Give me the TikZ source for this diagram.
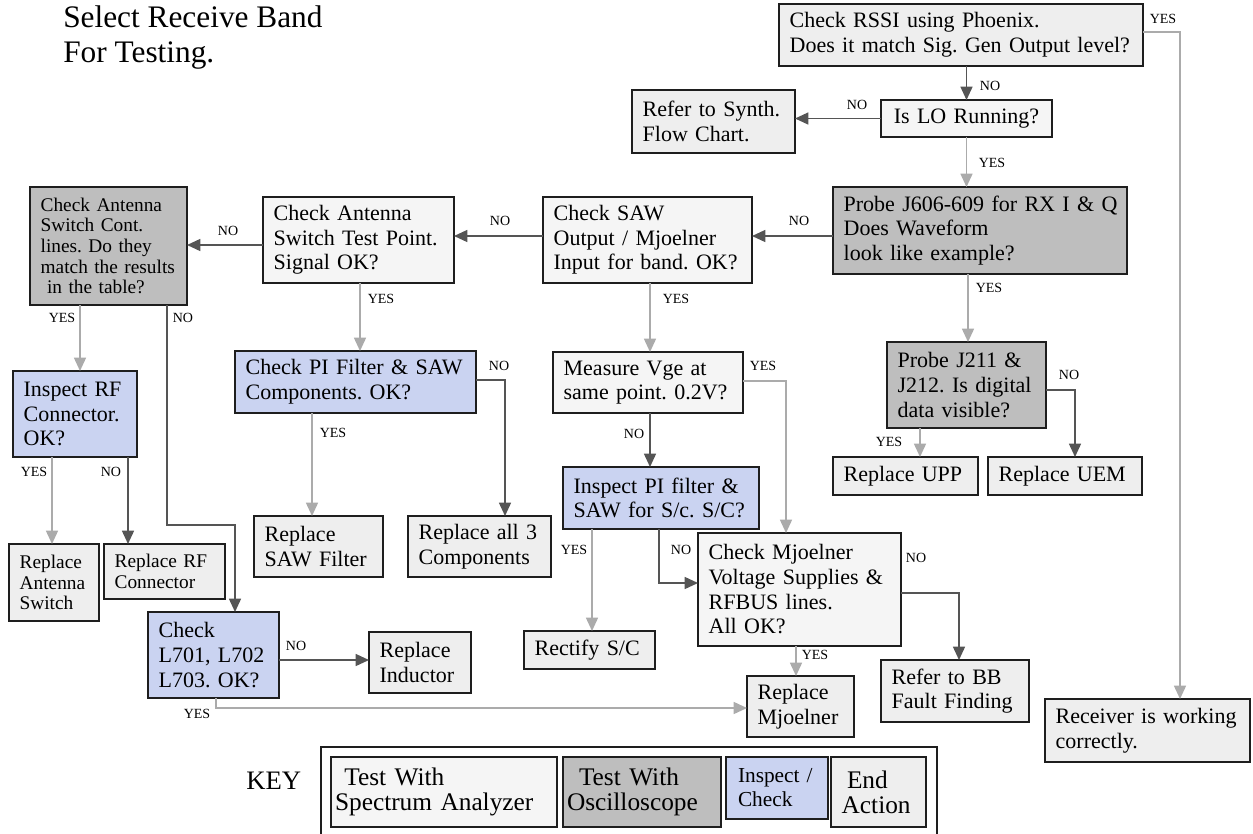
\documentclass[tikz,border=0pt]{standalone}
\usepackage{fontspec}
\setmainfont{Liberation Serif}
\usetikzlibrary{arrows.meta}
\frenchspacing
\definecolor{dk}{HTML}{555555}
\definecolor{lt}{HTML}{ABABAB}
\definecolor{oscfill}{HTML}{BEBEBE}
\definecolor{specfill}{HTML}{F5F5F5}
\definecolor{endfill}{HTML}{EEEEEE}
\definecolor{inspfill}{HTML}{CAD3F1}
\definecolor{bordercol}{HTML}{1E1E1E}
\def\myPad{8}
\newcommand{\mybox}[7]{%
 \pgfmathsetmacro{\myBW}{(#5-#3)*0.75}%
 \pgfmathsetmacro{\myBH}{(#6-#4)*0.75}%
 \pgfmathsetmacro{\myTW}{(#5-#3)*0.75-2*\myPad}%
 \node[#2, inner xsep=\myPad pt, minimum width=\myBW pt, minimum height=\myBH pt, text width=\myTW pt] (#1) at ({(#3+#5)/2},{(#4+#6)/2}) {#7};}
\tikzset{
 boxbase/.style={draw=bordercol, line width=1.3pt, inner ysep=0pt, outer sep=0pt, align=left, font=\fontsize{16.5}{18.5}\selectfont},
 spec/.style={boxbase, fill=specfill},
 endb/.style={boxbase, fill=endfill},
 osc/.style={boxbase, fill=oscfill},
 insp/.style={boxbase, fill=inspfill},
 smallfont/.style={font=\fontsize{14.5}{15.5}\selectfont},
 keyfont/.style={font=\fontsize{19}{18.5}\selectfont},
 dka/.style={draw=dk, line width=1.1pt, -{Triangle[length=10pt,width=9pt]}},
 lta/.style={draw=lt, line width=1.1pt, -{Triangle[length=10pt,width=9pt]}},
 lbl/.style={font=\fontsize{10.5}{12}\selectfont, inner sep=0pt},
}
\begin{document}
\begin{tikzpicture}[x=0.75pt, y=-0.75pt]
\useasboundingbox (0,0) rectangle (1253,833);
% title
\node[anchor=base west, inner sep=0pt, font=\fontsize{23.5}{26}\selectfont] (title1) at (63,27) {Select Receive Band};
\node[anchor=base west, inner sep=0pt, font=\fontsize{23.5}{26}\selectfont] (title2) at (63,62) {For Testing.};
% boxes
\mybox{rssi}{endb}{779}{4}{1143}{66}{\mbox{Check RSSI using Phoenix.}\\\mbox{Does it match Sig. Gen Output level?}}
\mybox{lo}{spec,align=center}{881}{100}{1052}{137}{\mbox{Is LO Running?}}
\mybox{synth}{endb}{632}{90}{795}{153}{\mbox{Refer to Synth.}\\\mbox{Flow Chart.}}
\mybox{p606}{osc}{833}{187}{1127}{274}{\mbox{Probe J606-609 for RX I \& Q}\\\mbox{Does Waveform}\\\mbox{look like example?}}
\mybox{saw}{spec}{543}{197}{752}{283}{\mbox{Check SAW}\\\mbox{Output / Mjoelner}\\\mbox{Input for band. OK?}}
\mybox{anttp}{spec}{263}{197}{454}{283}{\mbox{Check Antenna}\\\mbox{Switch Test Point.}\\\mbox{Signal OK?}}
\mybox{antsw}{osc,smallfont}{30}{187}{187}{305}{\mbox{Check Antenna}\\\mbox{Switch Cont.}\\\mbox{lines. Do they}\\\mbox{match the results}\\\mbox{ in the table?}}
\mybox{insrf}{insp}{13}{371}{137}{457}{\mbox{Inspect RF}\\\mbox{Connector.}\\\mbox{OK?}}
\mybox{repant}{endb,smallfont}{9}{544}{99}{621}{\mbox{Replace}\\\mbox{Antenna}\\\mbox{Switch}}
\mybox{reprf}{endb,smallfont}{104}{544}{225}{599}{\mbox{Replace RF}\\\mbox{Connector}}
\mybox{l701}{insp}{148}{612}{279}{698}{\mbox{Check}\\\mbox{L701, L702}\\\mbox{L703. OK?}}
\mybox{ind}{endb}{369}{632}{471}{693}{\mbox{Replace}\\\mbox{Inductor}}
\mybox{pichk}{insp}{235}{351}{476}{413}{\mbox{Check PI Filter \& SAW}\\\mbox{Components. OK?}}
\mybox{repsaw}{endb}{254}{516}{383}{577}{\mbox{Replace}\\\mbox{SAW Filter}}
\mybox{rep3}{endb}{408}{516}{551}{577}{\mbox{Replace all 3}\\\mbox{Components}}
\mybox{meas}{spec}{553}{352}{743}{413}{\mbox{Measure Vge at}\\\mbox{same point. 0.2V?}}
\mybox{inspi}{insp}{563}{467}{759}{529}{\mbox{Inspect PI filter \&}\\\mbox{SAW for S/c. S/C?}}
\mybox{rect}{endb}{524}{631}{655}{669}{\mbox{Rectify S/C}}
\mybox{mj}{spec}{698}{533}{901}{646}{\mbox{Check Mjoelner}\\\mbox{Voltage Supplies \&}\\\mbox{RFBUS lines.}\\\mbox{All OK?}}
\mybox{repmj}{endb}{747}{676}{854}{737}{\mbox{Replace}\\\mbox{Mjoelner}}
\mybox{bb}{endb}{881}{660}{1029}{722}{\mbox{Refer to BB}\\\mbox{Fault Finding}}
\mybox{recv}{endb}{1045}{699}{1250}{762}{\mbox{Receiver is working}\\\mbox{correctly.}}
\mybox{j211}{osc}{887}{342}{1046}{428}{\mbox{Probe J211 \&}\\\mbox{J212. Is digital}\\\mbox{data visible?}}
\mybox{upp}{endb}{833}{457}{978}{495}{\mbox{Replace UPP}}
\mybox{uem}{endb}{988}{457}{1142}{495}{\mbox{Replace UEM}}
% key
\draw[line width=1pt, draw=bordercol] (321,850) |- (937,747) -- (937,850);
\node[anchor=base west, inner sep=0pt, font=\fontsize{20}{20}\selectfont] (keylbl) at (246,789) {KEY};
\def\myPad{3}
\mybox{k1}{spec,keyfont}{331}{757}{557}{827}{\mbox{\hspace{7pt}Test With}\\\mbox{Spectrum Analyzer}}
\mybox{k2}{osc,keyfont}{563}{757}{721}{827}{\mbox{\hspace{9pt}Test With}\\\mbox{Oscilloscope}}
\mybox{k3}{insp,font=\fontsize{16}{18}\selectfont}{726}{757}{828}{819}{\mbox{\hspace{6pt}Inspect /}\\\mbox{\hspace{6pt}Check}}
\mybox{k4}{endb,keyfont}{831}{757}{926}{827}{\mbox{\hspace{9pt}End}\\\mbox{\hspace{5pt}Action}}
\def\myPad{8}
% connectors
\draw[dka] (rssi.south -| lo.north) -- (lo.north);
\draw[lta] (rssi.east |- 0,32) -| (recv.north -| 1180,0);
\draw[dka] (lo.west) -- (synth.east |- lo.west);
\draw[lta] (lo.south) -- (p606.north -| lo.south);
\draw[dka] (p606.west |- 0,236) -- (saw.east |- 0,236);
\draw[dka] (saw.west |- 0,236) -- (anttp.east |- 0,236);
\draw[dka] (anttp.west |- 0,245) -- (antsw.east |- 0,245);
\draw[lta] (antsw.south -| 80,0) -- (insrf.north -| 80,0);
\draw[dka] (antsw.south -| 167,0) -- (167,525) -| (l701.north -| 235,0);
\draw[lta] (insrf.south -| 52,0) -- (repant.north -| 52,0);
\draw[dka] (insrf.south -| 128,0) -- (reprf.north -| 128,0);
\draw[lta] (anttp.south -| 360,0) -- (pichk.north -| 360,0);
\draw[lta] (pichk.south -| 312,0) -- (repsaw.north -| 312,0);
\draw[dka] (pichk.east |- 0,380) -| (rep3.north -| 505,0);
\draw[lta] (saw.south -| 650,0) -- (meas.north -| 650,0);
\draw[dka] (meas.south -| 650,0) -- (inspi.north -| 650,0);
\draw[lta] (meas.east |- 0,381) -| (mj.north -| 786,0);
\draw[lta] (inspi.south -| 592,0) -- (rect.north -| 592,0);
\draw[dka] (inspi.south -| 659,0) |- (mj.west |- 0,583);
\draw[lta] (mj.south -| 796,0) -- (repmj.north -| 796,0);
\draw[dka] (mj.east |- 0,593) -| (bb.north -| 959,0);
\draw[dka] (l701.east |- 0,660) -- (ind.west |- 0,660);
\draw[lta] (l701.south -| 216,0) |- (repmj.west |- 0,708);
\draw[lta] (p606.south -| 968,0) -- (j211.north -| 968,0);
\draw[lta] (j211.south -| 920,0) -- (upp.north -| 920,0);
\draw[dka] (j211.east |- 0,390) -| (uem.north -| 1075,0);
% labels
\node[lbl] (n1) at (990,86) {NO};
\node[lbl] (n2) at (857,105) {NO};
\node[lbl] (y1) at (992,163) {YES};
\node[lbl] (y2) at (1163,19) {YES};
\node[lbl] (n3) at (799,221) {NO};
\node[lbl] (n4) at (500,221) {NO};
\node[lbl] (n5) at (228,231) {NO};
\node[lbl] (y3) at (62,318) {YES};
\node[lbl] (n6) at (183,318) {NO};
\node[lbl] (y4) at (381,299) {YES};
\node[lbl] (y5) at (676,299) {YES};
\node[lbl] (n7) at (499,366) {NO};
\node[lbl] (y6) at (763,366) {YES};
\node[lbl] (y7) at (333,433) {YES};
\node[lbl] (n8) at (634,434) {NO};
\node[lbl] (y8) at (34,472) {YES};
\node[lbl] (n9) at (111,472) {NO};
\node[lbl] (y9) at (574,550) {YES};
\node[lbl] (n10) at (681,550) {NO};
\node[lbl] (n11) at (916,558) {NO};
\node[lbl] (y10) at (815,655) {YES};
\node[lbl] (n12) at (296,646) {NO};
\node[lbl] (y11) at (197,714) {YES};
\node[lbl] (y12) at (989,288) {YES};
\node[lbl] (n13) at (1069,375) {NO};
\node[lbl] (y13) at (889,442) {YES};
\end{tikzpicture}
\end{document}
